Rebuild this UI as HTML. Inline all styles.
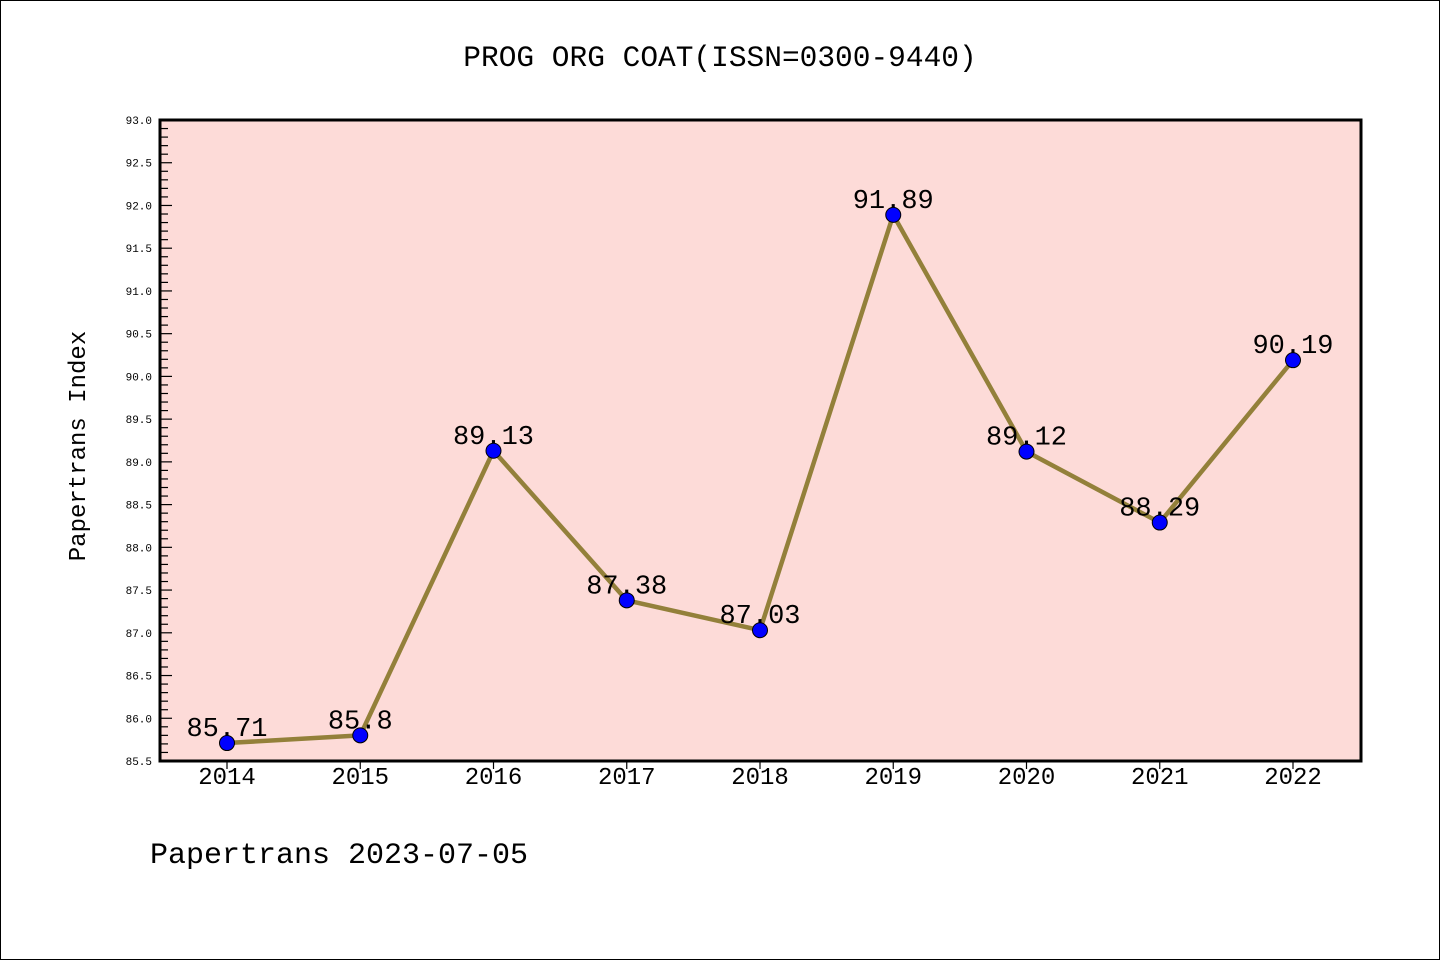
<!DOCTYPE html>
<html><head><meta charset="utf-8"><style>
html,body{margin:0;padding:0;background:#fff}
svg{display:block}
text{font-family:"WenQuanYi Zen Hei Mono","WenQuanYi Zen Hei","Liberation Mono",monospace}
</style></head><body>
<svg id="chart" width="1440" height="960" xmlns="http://www.w3.org/2000/svg">
<rect x="0.5" y="0.5" width="1439" height="959" fill="#fff" stroke="#000" stroke-width="1"/>
<text x="720" y="66" font-size="29.5" text-anchor="middle">PROG ORG COAT(ISSN=0300-9440)</text>
<rect x="160" y="120" width="1201" height="641" fill="#fddbd8"/>
<g id="yaxis"></g>
<g id="xaxis"></g>
<g id="series"></g>
<rect x="160" y="120" width="1201" height="641" fill="none" stroke="#000" stroke-width="3"/>
<text transform="translate(85,446) rotate(-90)" font-size="24" text-anchor="middle">Papertrans Index</text>
<text x="150" y="863" font-size="30">Papertrans 2023-07-05</text>
</svg>
<script>
const categories=["2014","2015","2016","2017","2018","2019","2020","2021","2022"];
const values=[85.71,85.8,89.13,87.38,87.03,91.89,89.12,88.29,90.19];
const valueLabels=["85.71","85.8","89.13","87.38","87.03","91.89","89.12","88.29","90.19"];
const yTicks=["85.5","86.0","86.5","87.0","87.5","88.0","88.5","89.0","89.5","90.0","90.5","91.0","91.5","92.0","92.5","93.0"];
const yMin=85.5,yMax=93.0;
const NS="http://www.w3.org/2000/svg";
const X0=160,X1=1361,Y0=761,Y1=120;
function yScale(v){return Y0-(v-yMin)/(yMax-yMin)*(Y0-Y1);}
function xScale(i){return 227+i*(1293-227)/(categories.length-1);}
function mk(tag,attrs,parent){const e=document.createElementNS(NS,tag);for(const k in attrs)e.setAttribute(k,attrs[k]);parent.appendChild(e);return e;}
const ya=document.getElementById('yaxis');
for(let v=yMin;v<=yMax+1e-9;v+=0.1){
  const y=yScale(v);const major=Math.abs(v*2-Math.round(v*2))<1e-6;
  const t=mk('line',{x1:X0,x2:X0+(major?12:8),y1:y,y2:y,stroke:'#000','stroke-width':1.2},ya);
  
  
}
yTicks.forEach(s=>{
  const t=mk('text',{x:152,y:yScale(parseFloat(s))+4,'font-size':11,'text-anchor':'end'},ya);
  t.textContent=s;
  
  
});
const xa=document.getElementById('xaxis');
categories.forEach((c,i)=>{
  const x=xScale(i);
  const l=mk('line',{x1:x,x2:x,y1:Y0,y2:Y0+8,stroke:'#000','stroke-width':1.2},xa);
  
  
  const t=mk('text',{x:x,y:784,'font-size':24,'text-anchor':'middle'},xa);
  t.textContent=c;
  
  
});
const sg=document.getElementById('series');
const pts=values.map((v,i)=>xScale(i)+','+yScale(v)).join(' ');
const pl=mk('polyline',{points:pts,fill:'none',stroke:'#93803a','stroke-width':4.5,'stroke-linejoin':'round'},sg);


values.forEach((v,i)=>{
  const x=xScale(i),y=yScale(v);
  const t=mk('text',{x:x,y:y-7,'font-size':27,'text-anchor':'middle'},sg);
  t.textContent=valueLabels[i];
  
  
  const c=mk('circle',{cx:x,cy:y,r:7.5,fill:'#0000ff',stroke:'#000','stroke-width':1},sg);
  
  
});
</script>
</body></html>
